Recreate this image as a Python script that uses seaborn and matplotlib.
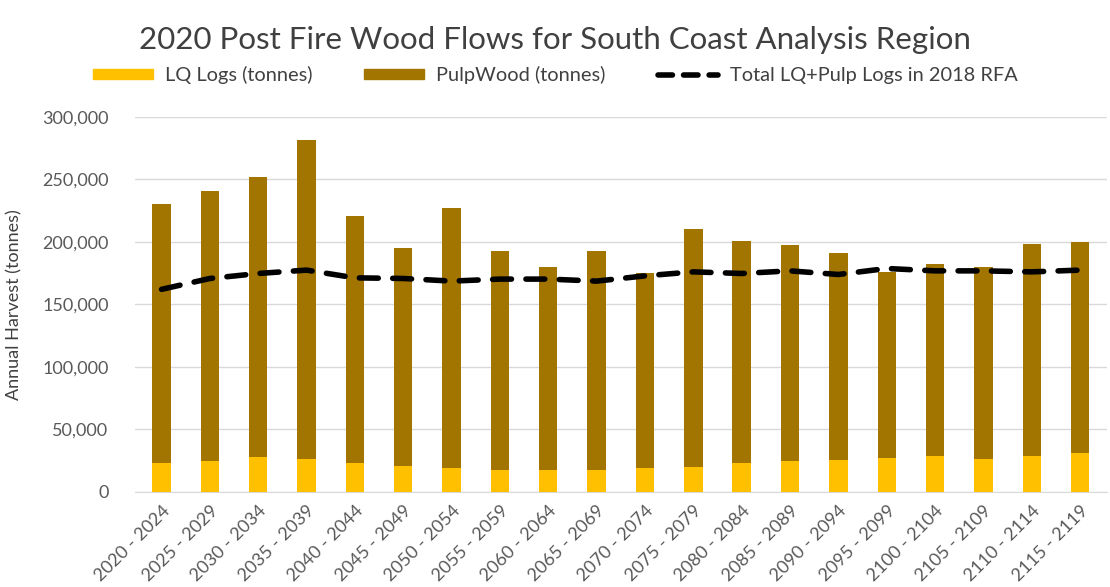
import numpy as np
import pandas as pd
import matplotlib
matplotlib.use("Agg")
import matplotlib.pyplot as plt
import seaborn as sns
from matplotlib.patches import Patch
from matplotlib.lines import Line2D
from matplotlib.ticker import FuncFormatter

# Data
periods = ["2020 - 2024", "2025 - 2029", "2030 - 2034", "2035 - 2039", "2040 - 2044",
           "2045 - 2049", "2050 - 2054", "2055 - 2059", "2060 - 2064", "2065 - 2069",
           "2070 - 2074", "2075 - 2079", "2080 - 2084", "2085 - 2089", "2090 - 2094",
           "2095 - 2099", "2100 - 2104", "2105 - 2109", "2110 - 2114", "2115 - 2119"]
lq_logs = [22700, 24500, 27500, 26000, 22700, 20800, 18700, 17400, 17400, 17400,
           18700, 20000, 22700, 24500, 25400, 26700, 28600, 26000, 28600, 30700]
pulpwood = [207300, 216100, 224500, 255400, 198300, 174200, 208800, 175200, 162600, 175200,
            156000, 190000, 177900, 172900, 165300, 149100, 153400, 154000, 169400, 169100]
rfa_total = [162000, 170700, 174700, 177400, 171200, 170700, 168600, 170200, 170200, 168600,
             172800, 176000, 174700, 176800, 173900, 178700, 176800, 176800, 176000, 177400]

df = pd.DataFrame({"period": periods, "lq": lq_logs, "pulp": pulpwood, "rfa": rfa_total})
df["total"] = df["lq"] + df["pulp"]

lq_col = "#FFC000"
pulp_col = "#A27500"
text_col = "#595959"

sns.set_style("white")
plt.rcParams["font.family"] = ["Lato", "DejaVu Sans"]

fig = plt.figure(figsize=(11.1, 5.87), dpi=100)
ax = fig.add_axes([0.1216, 0.1624, 0.8754, 0.6383])

# stacked bars: draw the full stack in brown, then LQ over it
sns.barplot(data=df, x="period", y="total", color=pulp_col, width=0.38,
            saturation=1, linewidth=0, ax=ax, zorder=2)
sns.barplot(data=df, x="period", y="lq", color=lq_col, width=0.38,
            saturation=1, linewidth=0, ax=ax, zorder=3)
sns.lineplot(x=np.arange(len(df)), y=df["rfa"], color="black", linewidth=4,
             ax=ax, zorder=4, dashes=False)
ax.lines[-1].set_dashes([3.4, 2.6])
ax.lines[-1].set_dash_capstyle("round")

ax.set_ylim(0, 300000)
ax.set_xlim(-0.55, len(df) - 0.45)
ax.set_yticks(np.arange(0, 300001, 50000))
ax.yaxis.set_major_formatter(FuncFormatter(lambda v, p: f"{int(v):,}"))
ax.grid(axis="y", color="#D9D9D9", linewidth=1)
ax.set_axisbelow(True)
for s in ["top", "right", "left"]:
    ax.spines[s].set_visible(False)
ax.spines["bottom"].set_color("#D9D9D9")
ax.tick_params(axis="both", length=0, colors=text_col, labelsize=13)
ax.tick_params(axis="y", pad=19)
ax.tick_params(axis="x", pad=8)
plt.setp(ax.get_xticklabels(), rotation=45, ha="right", rotation_mode="anchor")
ax.set_xlabel("")
ax.set_ylabel("Annual Harvest (tonnes)", fontsize=13, color="#404040", labelpad=14)

fig.text(0.5, 0.932, "2020 Post Fire Wood Flows for South Coast Analysis Region",
         ha="center", va="center", fontsize=22.5, color="#404040")

handles = [Patch(color=lq_col), Patch(color=pulp_col),
           Line2D([0], [0], color="black", linewidth=4, dashes=[2.6, 2.0], dash_capstyle="round")]
labels = ["LQ Logs (tonnes)", "PulpWood (tonnes)", "Total LQ+Pulp Logs in 2018 RFA"]
fig.legend(handles, labels, loc="center", bbox_to_anchor=(0.5, 0.872), ncol=3,
           frameon=False, fontsize=14.4, handlelength=3.0, handleheight=0.4,
           handletextpad=0.6, columnspacing=2.6, labelcolor="#404040")

fig.savefig("out.png", dpi=100)
